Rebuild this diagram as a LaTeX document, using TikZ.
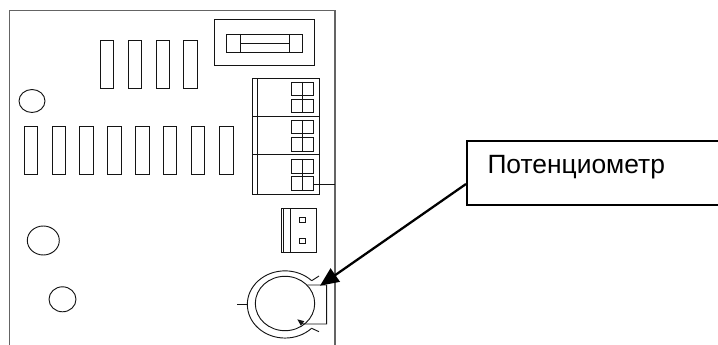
\documentclass[tikz,border=0pt]{standalone}
\usepackage{fontspec}
\setmainfont{Liberation Sans}
\usetikzlibrary{arrows.meta}
\tikzset{every picture/.style={line width=0.75pt}}
\tikzset{boardline/.style={color={rgb, 255:red, 100; green, 100; blue, 100 },line width=1.1pt}}
\tikzset{partline/.style={color={rgb, 255:red, 20; green, 20; blue, 20 },line width=0.7pt}}
\begin{document}
\begin{tikzpicture}[x=0.75pt,y=0.75pt,yscale=-1,xscale=1]
\useasboundingbox (0,0) rectangle (718,345);

%Shape: Board outline
\draw [boardline]   (9.5,345) -- (9.5,10.5) -- (335,10.5) -- (335,345) ;

%Shape: Rectangle upper row
\draw [partline]   (100.5,40.5) rectangle (113.5,88) ;
\draw [partline]   (128,40.5) rectangle (141,88) ;
\draw [partline]   (156.5,40.5) rectangle (169.5,88) ;
\draw [partline]   (183.5,40.5) rectangle (197,88) ;
%Shape: Rectangle lower row
\draw [partline]   (24.5,126.5) rectangle (37.5,174) ;
\draw [partline]   (52,126.5) rectangle (65,174) ;
\draw [partline]   (79.5,126.5) rectangle (93,174) ;
\draw [partline]   (107.5,126.5) rectangle (121,174) ;
\draw [partline]   (135.5,126.5) rectangle (149,174) ;
\draw [partline]   (163.5,126.5) rectangle (176.5,174) ;
\draw [partline]   (191.5,126.5) rectangle (204.5,174) ;
\draw [partline]   (219.5,126.5) rectangle (233,174) ;

%Shape: Circle
\draw [partline]   (32,101) ellipse (13 and 11.5) ;
\draw [partline]   (43.3,240.5) ellipse (16 and 14.5) ;
\draw [partline]   (62.5,299.3) ellipse (13.5 and 12.5) ;

%Shape: Fuse
\draw [partline]   (214.5,19.5) rectangle (314.5,65) ;
\draw [partline]   (226.5,34) rectangle (302.5,52) ;
\draw [partline]   (240.5,34) -- (240.5,52) ;
\draw [partline]   (289.5,34) -- (289.5,52) ;
\draw [partline]   (240.5,43.5) -- (289.5,43.5) ;

%Shape: Terminal block
\draw [partline]   (252.5,78.5) rectangle (319.5,194) ;
\draw [partline]   (257.5,78.5) -- (257.5,194) ;
\draw [partline]   (252.5,116.5) -- (319.5,116.5) ;
\draw [partline,line width=1.1pt]   (252.5,154.5) -- (319.5,154.5) ;
\draw [partline]   (291,82) rectangle (313.5,95.5) ;
\draw [partline]   (291,99) rectangle (313.5,112.5) ;
\draw [partline]   (291,120) rectangle (313.5,133.5) ;
\draw [partline]   (291,137.5) rectangle (313.5,151) ;
\draw [partline]   (291,159) rectangle (313.5,173) ;
\draw [partline]   (291,176) rectangle (313.5,190) ;
\draw [partline]   (302.5,82) -- (302.5,112.5) ;
\draw [partline]   (302.5,120) -- (302.5,151) ;
\draw [partline]   (302.5,159) -- (302.5,190) ;
\draw [partline]   (313.5,184) -- (335,184) ;

%Shape: Small connector
\draw [partline]   (281,208.5) rectangle (316.7,252.3) ;
\draw [partline]   (283.3,208.5) -- (283.3,252.3) ;
\draw [partline]   (290.3,208.5) -- (290.3,252.3) ;
\draw [partline]   (299.3,217.3) rectangle (305.3,222) ;
\draw [partline]   (299.3,238.7) rectangle (305.3,243.7) ;

%Shape: Potentiometer
\draw [partline]   (285,303.5) ellipse (29.7 and 27.2) ;
\draw [partline]   (311.7,280.7) arc [start angle=-45,end angle=-315,x radius=37.7,y radius=33.6] ;
\draw [partline]   (311.7,280.7) -- (319,276) ;
\draw [partline]   (311.7,328.3) -- (319,331.7) ;
\draw [partline]   (237.3,304) -- (247.3,304) ;
\draw [partline,-{Triangle[length=5pt,width=4pt]}]   (307.3,285) -- (326.7,285) -- (326.7,324) -- (303.3,324) -- (297.3,319.3) ;

% Text Node
\node (potbox) [anchor=north west,draw,line width=1.4pt,minimum width=270,minimum height=48,inner sep=0pt] at (466,140) {};
\node (potlabel) [anchor=base west,inner sep=0pt,font=\fontsize{19.8}{24}\selectfont] at (487,174) {Потенциометр};

%Straight Lines
\coordinate (boxfoot) at (466,184);
\coordinate (armtip) at (320,285.7);
\draw [line width=1.7pt,-{Triangle[length=14pt,width=12pt]}]   (boxfoot) -- (armtip) ;

\end{tikzpicture}
\end{document}
